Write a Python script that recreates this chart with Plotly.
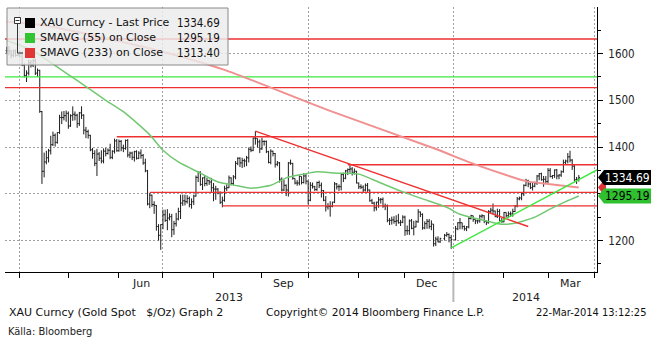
import pandas as pd
import plotly.graph_objects as go

# ---------------- data ----------------
WEEK0 = "2013-03-18"  # Monday of first week; rows are Mon..Fri

CLOSE = [
    [None, None, None, None, 1606],
    [1605, 1596, 1605, 1596, 1597],
    [1600, 1575, 1553, 1558, 1580],
    [1575, 1585, 1558, 1564, 1476],
    [1348, 1368, 1377, 1392, 1405],
    [1425, 1410, 1431, 1463, 1463],
    [1467, 1472, 1445, 1467, 1470],
    [1468, 1450, 1473, 1468, 1436],
    [1433, 1425, 1394, 1386, 1365],
    [1385, 1376, 1370, 1391, 1386],
    [1393, 1378, 1391, 1413, 1392],
    [1412, 1398, 1397, 1414, 1383],
    [1387, 1378, 1390, 1376, 1387],
    [1382, 1366, 1349, 1278, 1297],
    [1277, 1275, 1230, 1211, 1234],
    [1255, 1243, 1248, 1251, 1223],
    [1236, 1246, 1262, 1280, 1285],
    [1283, 1290, 1277, 1283, 1295],
    [1335, 1346, 1320, 1334, 1322],
    [1328, 1325, 1313, 1310, 1310],
    [1302, 1282, 1286, 1311, 1313],
    [1334, 1322, 1336, 1365, 1376],
    [1366, 1371, 1370, 1377, 1395],
    [1393, 1419, 1418, 1411, 1396],
    [1412, 1412, 1390, 1367, 1391],
    [1386, 1363, 1366, 1331, 1308],
    [1318, 1308, 1366, 1365, 1333],
    [1323, 1323, 1337, 1324, 1338],
    [1327, 1286, 1318, 1315, 1309],
    [1324, 1318, 1307, 1286, 1272],
    [1273, 1273, 1282, 1321, 1315],
    [1315, 1341, 1333, 1349, 1352],
    [1353, 1346, 1348, 1323, 1315],
    [1314, 1308, 1318, 1308, 1285],
    [1280, 1270, 1282, 1287, 1288],
    [1274, 1274, 1243, 1243, 1244],
    [1241, 1242, 1238, 1239, 1250],
    [1221, 1221, 1242, 1226, 1229],
    [1240, 1261, 1256, 1227, 1236],
    [1241, 1230, 1235, 1193, 1203],
    [1197, 1204, None, 1211, 1213],
    [1206, 1202, None, 1225, 1238],
    [1238, 1230, 1225, 1229, 1247],
    [1253, 1245, 1242, 1242, 1252],
    [1253, 1241, 1238, 1262, 1265],
    [1263, 1251, 1262, 1242, 1240],
    [1260, 1253, 1257, 1257, 1262],
    [1274, 1289, 1291, 1300, 1318],
    [1328, 1321, 1313, 1316, 1323],
    [1338, 1343, 1330, 1331, 1326],
    [1350, 1337, 1339, 1351, 1338],
    [1340, 1347, 1367, 1370, 1379],
    [1372, 1359, 1330, 1331, 1334.69],
]

HIGH = [
    [None, None, None, None, 1614],
    [1616, 1608, 1609, 1609, 1600],
    [1606, 1604, 1579, 1564, 1587],
    [1586, 1589, 1589, 1568, 1565],
    [1477, 1388, 1392, 1396, 1424],
    [1433, 1429, 1432, 1469, 1476],
    [1477, 1478, 1476, 1470, 1487],
    [1476, 1471, 1475, 1487, 1470],
    [1443, 1437, 1426, 1398, 1393],
    [1396, 1389, 1393, 1397, 1398],
    [1397, 1407, 1393, 1418, 1417],
    [1416, 1415, 1405, 1416, 1417],
    [1390, 1390, 1392, 1393, 1391],
    [1395, 1385, 1375, 1351, 1301],
    [1298, 1284, 1276, 1235, 1235],
    [1266, 1266, 1267, 1258, 1257],
    [1242, 1259, 1270, 1298, 1298],
    [1298, 1297, 1294, 1290, 1298],
    [1339, 1348, 1348, 1335, 1338],
    [1334, 1330, 1334, 1323, 1317],
    [1312, 1305, 1294, 1317, 1320],
    [1339, 1335, 1340, 1370, 1378],
    [1378, 1377, 1375, 1381, 1399],
    [1401, 1420, 1434, 1418, 1416],
    [1420, 1414, 1414, 1392, 1395],
    [1392, 1387, 1370, 1368, 1335],
    [1330, 1320, 1368, 1373, 1366],
    [1333, 1329, 1339, 1337, 1344],
    [1343, 1328, 1325, 1324, 1317],
    [1326, 1328, 1324, 1308, 1295],
    [1280, 1284, 1283, 1325, 1323],
    [1320, 1342, 1345, 1351, 1354],
    [1361, 1357, 1354, 1349, 1324],
    [1320, 1318, 1322, 1323, 1309],
    [1289, 1283, 1283, 1293, 1291],
    [1292, 1279, 1277, 1248, 1251],
    [1252, 1254, 1257, 1244, 1254],
    [1253, 1232, 1245, 1246, 1242],
    [1243, 1267, 1262, 1258, 1241],
    [1246, 1246, 1243, 1235, 1208],
    [1209, 1206, None, 1214, 1218],
    [1215, 1212, None, 1231, 1239],
    [1248, 1238, 1232, 1231, 1250],
    [1255, 1253, 1245, 1244, 1255],
    [1256, 1254, 1243, 1265, 1270],
    [1279, 1264, 1268, 1267, 1248],
    [1261, 1260, 1262, 1262, 1268],
    [1276, 1293, 1294, 1302, 1320],
    [1332, 1330, 1324, 1324, 1326],
    [1340, 1344, 1345, 1338, 1338],
    [1355, 1355, 1340, 1352, 1353],
    [1342, 1350, 1373, 1373, 1387],
    [1392, 1374, 1362, 1336, 1340],
]

LOW = [
    [None, None, None, None, 1600],
    [1596, 1590, 1592, 1593, 1594],
    [1591, 1573, 1549, 1539, 1553],
    [1570, 1571, 1554, 1550, 1473],
    [1321, 1335, 1363, 1367, 1384],
    [1402, 1401, 1407, 1428, 1449],
    [1457, 1454, 1439, 1443, 1456],
    [1457, 1441, 1445, 1460, 1427],
    [1419, 1418, 1391, 1375, 1359],
    [1338, 1370, 1365, 1365, 1380],
    [1384, 1374, 1374, 1386, 1390],
    [1390, 1391, 1389, 1394, 1378],
    [1376, 1372, 1369, 1373, 1374],
    [1375, 1362, 1346, 1275, 1269],
    [1272, 1257, 1221, 1200, 1180],
    [1224, 1240, 1222, 1243, 1207],
    [1212, 1230, 1243, 1246, 1274],
    [1275, 1279, 1271, 1268, 1276],
    [1294, 1325, 1317, 1308, 1316],
    [1317, 1319, 1304, 1284, 1287],
    [1299, 1278, 1271, 1283, 1306],
    [1312, 1318, 1318, 1331, 1361],
    [1357, 1355, 1357, 1359, 1367],
    [1389, 1391, 1405, 1399, 1387],
    [1394, 1403, 1387, 1365, 1363],
    [1380, 1356, 1359, 1324, 1305],
    [1306, 1295, 1294, 1362, 1330],
    [1320, 1317, 1318, 1320, 1322],
    [1320, 1277, 1284, 1311, 1306],
    [1306, 1312, 1292, 1284, 1262],
    [1266, 1251, 1271, 1280, 1309],
    [1306, 1307, 1325, 1331, 1340],
    [1345, 1339, 1341, 1322, 1310],
    [1310, 1303, 1305, 1304, 1283],
    [1278, 1262, 1264, 1270, 1279],
    [1270, 1265, 1239, 1233, 1234],
    [1236, 1231, 1236, 1231, 1237],
    [1210, 1212, 1212, 1224, 1211],
    [1228, 1238, 1250, 1223, 1224],
    [1225, 1225, 1222, 1187, 1188],
    [1196, 1195, None, 1200, 1208],
    [1196, 1182, None, 1200, 1222],
    [1224, 1224, 1221, 1220, 1226],
    [1245, 1240, 1235, 1236, 1238],
    [1247, 1237, 1233, 1236, 1258],
    [1256, 1250, 1248, 1241, 1238],
    [1239, 1249, 1249, 1251, 1251],
    [1261, 1271, 1286, 1286, 1295],
    [1316, 1314, 1310, 1307, 1314],
    [1319, 1329, 1328, 1315, 1322],
    [1323, 1335, 1332, 1334, 1331],
    [1331, 1336, 1345, 1362, 1365],
    [1367, 1351, 1327, 1321, 1326],
]

SMA55_DATES = ["2013-03-22", "2013-04-08", "2013-04-16", "2013-05-01", "2013-05-14",
               "2013-05-24", "2013-06-06", "2013-06-21", "2013-07-01", "2013-07-10",
               "2013-07-24", "2013-08-05", "2013-08-16", "2013-08-26", "2013-09-06",
               "2013-09-17", "2013-09-27", "2013-10-07", "2013-10-18", "2013-11-01",
               "2013-11-14", "2013-11-29", "2013-12-12", "2013-12-27", "2014-01-06",
               "2014-01-20", "2014-01-31", "2014-02-10", "2014-02-21", "2014-03-03",
               "2014-03-13", "2014-03-21"]
SMA55_VALUES = [1628, 1608, 1590, 1555, 1526,
                1500, 1472, 1426, 1393, 1368,
                1344, 1325, 1317, 1312, 1318,
                1334, 1342, 1347, 1344, 1342,
                1325, 1304, 1289, 1271, 1256,
                1244, 1235, 1237, 1250, 1265,
                1283, 1295.19]

SMA233_DATES = ["2013-03-22", "2013-04-15", "2013-05-22", "2013-06-28", "2013-08-08",
                "2013-10-14", "2013-12-23", "2014-01-13", "2014-02-04", "2014-02-17",
                "2014-03-03", "2014-03-21"]
SMA233_VALUES = [1668, 1661, 1635, 1605, 1565,
                 1479, 1394, 1366, 1340, 1327,
                 1321, 1313.40]

RED_LEVELS = [1631, 1527, 1422, 1362, 1303, 1274]
RED_LEVEL_STARTS = ["2013-03-21", "2013-03-21", "2013-05-31", "2013-10-25", "2013-06-21", "2013-08-07"]
GREEN_LEVEL = 1550
RED_TREND_DATES = ["2013-08-28", "2014-02-18"]
RED_TREND_VALUES = [1434, 1230]
GREEN_TREND_DATES = ["2013-12-31", "2014-04-02 06:00"]
GREEN_TREND_VALUES = [1184, 1351]

LAST_PRICE = 1334.69
SMA55_LAST = 1295.19
SMA233_LAST = 1313.40

Y_TICKS = [1200, 1300, 1400, 1500, 1600]
Y_TICK_TEXT = ["1200", "", "1400", "1500", "1600"]
Y_MINOR = [1150, 1250, 1350, 1450, 1550, 1650]
QUARTER_STARTS = ["2013-04-01", "2013-07-01", "2013-10-01", "2014-01-01", "2014-04-01"]
MONTH_STARTS = ["2013-04-01", "2013-05-01", "2013-06-03", "2013-07-01", "2013-08-01",
                "2013-09-02", "2013-10-01", "2013-11-01", "2013-12-02", "2014-01-01",
                "2014-02-03", "2014-03-03", "2014-04-01"]
MONTH_LABELS = ["Jun", "Sep", "Dec", "Mar"]
MONTH_LABEL_DATES = ["2013-06-17", "2013-09-16", "2013-12-16", "2014-03-17"]
YEAR_LABELS = ["2013", "2014"]
YEAR_BREAK = "2014-01-01"

LEGEND_LABELS = ["XAU Curncy - Last Price", "SMAVG (55) on Close", "SMAVG (233) on Close"]
LEGEND_VALUES = ["1334.69", "1295.19", "1313.40"]

# ---------------- geometry / style ----------------
W_PX, H_PX = 655, 351
ML, MR, MT, MB = 5, 58, 7, 79
PW, PH = W_PX - ML - MR, H_PX - MT - MB
X_RANGE = ["2013-03-21 05:00", "2014-04-02 06:30"]
Y_RANGE = [1132.6, 1699.5]

FONT = "DejaVu Sans"
FONT_C = "DejaVu Sans Condensed"
FONT_N = "Liberation Sans Narrow, Arial Narrow, DejaVu Sans Condensed"

RED = "#ee3030"
GREEN_LINE = "#3ee83e"
SMA55_COLOR = "#72c872"
SMA233_COLOR = "#f09090"
BOX_GREEN = "#2fbf2f"
BAR_COLOR = "#1c1c1c"


def xp(px):
    return (px - ML) / PW


def yp(py):
    return (H_PX - MB - py) / PH


def vy(v):
    return (v - Y_RANGE[0]) / (Y_RANGE[1] - Y_RANGE[0])


x0 = pd.Timestamp(X_RANGE[0])
x1 = pd.Timestamp(X_RANGE[1])
bdays_total = len(pd.bdate_range(x0.normalize(), x1.normalize()))
px_per_bday = PW / bdays_total

# ---------------- build bars ----------------
week0 = pd.Timestamp(WEEK0)
dates, o, h, l, c = [], [], [], [], []
prev = None
for w, (cr, hr, lr) in enumerate(zip(CLOSE, HIGH, LOW)):
    for d in range(5):
        if cr[d] is None:
            continue
        dates.append(week0 + pd.Timedelta(days=7 * w + d))
        c.append(cr[d])
        h.append(hr[d])
        l.append(lr[d])
        o.append(prev if prev is not None else cr[d])
        prev = cr[d]

fig = go.Figure()

# horizontal levels
for lev, start in zip(RED_LEVELS, RED_LEVEL_STARTS):
    fig.add_trace(go.Scatter(x=[start, X_RANGE[1]], y=[lev, lev], mode="lines",
                             line=dict(color=RED, width=1.4), hoverinfo="skip"))
fig.add_trace(go.Scatter(x=[X_RANGE[0], X_RANGE[1]], y=[GREEN_LEVEL, GREEN_LEVEL], mode="lines",
                         line=dict(color=GREEN_LINE, width=1.4), hoverinfo="skip"))

# moving averages
fig.add_trace(go.Scatter(x=SMA233_DATES, y=SMA233_VALUES, mode="lines",
                         line=dict(color=SMA233_COLOR, width=2, shape="spline", smoothing=0.6),
                         hoverinfo="skip"))
fig.add_trace(go.Scatter(x=SMA55_DATES, y=SMA55_VALUES, mode="lines",
                         line=dict(color=SMA55_COLOR, width=1.5, shape="spline", smoothing=0.6),
                         hoverinfo="skip"))

# trend lines
fig.add_trace(go.Scatter(x=RED_TREND_DATES, y=RED_TREND_VALUES, mode="lines",
                         line=dict(color=RED, width=1.4), hoverinfo="skip"))
fig.add_trace(go.Scatter(x=GREEN_TREND_DATES, y=GREEN_TREND_VALUES, mode="lines",
                         line=dict(color=GREEN_LINE, width=1.4), hoverinfo="skip"))

# price bars
fig.add_trace(go.Ohlc(x=dates, open=o, high=h, low=l, close=c, tickwidth=0.5,
                      increasing=dict(line=dict(color=BAR_COLOR, width=1)),
                      decreasing=dict(line=dict(color=BAR_COLOR, width=1)),
                      hoverinfo="skip"))

# right-axis major tick triangles
tri_x = x1 + pd.Timedelta(days=3.0 / px_per_bday)
fig.add_trace(go.Scatter(x=[tri_x] * len(Y_TICKS), y=Y_TICKS, mode="markers",
                         marker=dict(symbol="triangle-right", size=6, color="black"),
                         cliponaxis=False, hoverinfo="skip"))

shapes = []
annotations = []

# legend box
shapes.append(dict(type="rect", xref="paper", yref="paper", x0=xp(7), x1=xp(228), y0=yp(65), y1=yp(8),
                   fillcolor="rgba(236,236,236,0.82)", line=dict(color="#8a8a8a", width=1), layer="above"))
# tree icon
shapes.append(dict(type="rect", xref="paper", yref="paper", x0=xp(14.5), x1=xp(20.5), y0=yp(23.5), y1=yp(17.5),
                   fillcolor="white", line=dict(color="#333", width=1), layer="above"))
shapes.append(dict(type="line", xref="paper", yref="paper", x0=xp(15.5), x1=xp(19.5), y0=yp(20.5), y1=yp(20.5),
                   line=dict(color="#333", width=1), layer="above"))
shapes.append(dict(type="line", xref="paper", yref="paper", x0=xp(17.5), x1=xp(17.5), y0=yp(53), y1=yp(23.5),
                   line=dict(color="#333", width=1), layer="above"))
shapes.append(dict(type="line", xref="paper", yref="paper", x0=xp(17.5), x1=xp(23), y0=yp(53), y1=yp(53),
                   line=dict(color="#333", width=1), layer="above"))

legend_colors = ["#000000", "#33c433", "#e03535"]
for i, (lab, val, col) in enumerate(zip(LEGEND_LABELS, LEGEND_VALUES, legend_colors)):
    cy = 23 + 15 * i
    shapes.append(dict(type="rect", xref="paper", yref="paper", x0=xp(25), x1=xp(35),
                       y0=yp(cy + 5), y1=yp(cy - 5), fillcolor=col, line=dict(width=0), layer="above"))
    annotations.append(dict(text=lab, xref="paper", yref="paper", x=xp(38), y=yp(cy), xanchor="left",
                            yanchor="middle", showarrow=False, font=dict(family=FONT, size=11, color="#111")))
    annotations.append(dict(text=val, xref="paper", yref="paper", x=xp(222), y=yp(cy), xanchor="right",
                            yanchor="middle", showarrow=False, font=dict(family=FONT_C, size=11.5, color="#111")))

# right-side value boxes
half = 7.5 / PH


def box_path(v, right):
    yc = vy(v)
    return (f"M {xp(598)},{yc} L {xp(604)},{yc + half} L {xp(right)},{yc + half} "
            f"L {xp(right)},{yc - half} L {xp(604)},{yc - half} Z")


shapes.append(dict(type="path", xref="paper", yref="paper", path=box_path(SMA233_LAST, 606),
                   fillcolor="#e03535", line=dict(width=0), layer="above"))
shapes.append(dict(type="path", xref="paper", yref="paper", path=box_path(LAST_PRICE, 651),
                   fillcolor="#000000", line=dict(width=0), layer="above"))
shapes.append(dict(type="path", xref="paper", yref="paper", path=box_path(SMA55_LAST, 651),
                   fillcolor=BOX_GREEN, line=dict(width=0), layer="above"))
annotations.append(dict(text=f"{LAST_PRICE:.2f}", xref="paper", yref="paper", x=xp(627), y=vy(LAST_PRICE),
                        xanchor="center", yanchor="middle", showarrow=False,
                        font=dict(family=FONT_C, size=12, color="white")))
annotations.append(dict(text=f"{SMA55_LAST:.2f}", xref="paper", yref="paper", x=xp(627), y=vy(SMA55_LAST),
                        xanchor="center", yanchor="middle", showarrow=False,
                        font=dict(family=FONT_C, size=12, color="black")))

# x-axis labels
for lab, d in zip(MONTH_LABELS, MONTH_LABEL_DATES):
    annotations.append(dict(text=lab, xref="x", yref="paper", x=d, y=yp(283), xanchor="center",
                            yanchor="middle", showarrow=False, font=dict(family=FONT, size=11, color="#222")))
yb = pd.Timestamp(YEAR_BREAK)
year_x = [x0 + (yb - x0) / 2, yb + (x1 - yb) / 2]
year_x = [pd.bdate_range(d.normalize(), periods=1)[0] for d in year_x]
for lab, d in zip(YEAR_LABELS, year_x):
    annotations.append(dict(text=lab, xref="x", yref="paper", x=d, y=yp(297), xanchor="center",
                            yanchor="middle", showarrow=False, font=dict(family=FONT, size=11, color="#222")))
shapes.append(dict(type="line", xref="x", yref="paper", x0=YEAR_BREAK, x1=YEAR_BREAK, y0=yp(273), y1=yp(302),
                   line=dict(color="#b8b8b8", width=2)))

# footer
annotations.append(dict(text="XAU Curncy (Gold Spot\u00a0\u00a0\u00a0$/Oz) Graph 2", xref="paper", yref="paper",
                        x=xp(7), y=yp(312), xanchor="left", yanchor="middle", showarrow=False,
                        font=dict(family=FONT, size=11, color="#111")))
annotations.append(dict(text="Copyright\u00a9 2014 Bloomberg Finance L.P.", xref="paper", yref="paper",
                        x=xp(264), y=yp(312), xanchor="left", yanchor="middle", showarrow=False,
                        font=dict(family=FONT, size=10.6, color="#111")))
annotations.append(dict(text="22-Mar-2014 13:12:25", xref="paper", yref="paper",
                        x=xp(648), y=yp(312), xanchor="right", yanchor="middle", showarrow=False,
                        font=dict(family=FONT_C, size=11, color="#111")))
annotations.append(dict(text="Källa: Bloomberg", xref="paper", yref="paper",
                        x=xp(6), y=yp(331), xanchor="left", yanchor="middle", showarrow=False,
                        font=dict(family=FONT_N, size=11, color="#222")))

fig.update_layout(
    width=W_PX, height=H_PX,
    margin=dict(l=ML, r=MR, t=MT, b=MB, pad=0),
    paper_bgcolor="white", plot_bgcolor="white",
    showlegend=False,
    shapes=shapes, annotations=annotations,
    xaxis=dict(
        type="date", range=X_RANGE, rangeslider=dict(visible=False),
        rangebreaks=[dict(bounds=["sat", "mon"])],
        tickmode="array", tickvals=QUARTER_STARTS, showticklabels=False,
        ticks="outside", ticklen=5, tickcolor="black",
        showgrid=True, gridcolor="#a0a0a0", griddash="2px,2px", gridwidth=1,
        minor=dict(tickmode="array", tickvals=MONTH_STARTS, ticks="outside", ticklen=5,
                   tickcolor="black", showgrid=False),
        showline=True, linecolor="black", linewidth=1, zeroline=False, fixedrange=True,
    ),
    yaxis=dict(
        side="right", range=Y_RANGE,
        tickmode="array", tickvals=Y_TICKS, ticktext=Y_TICK_TEXT,
        ticks="outside", ticklen=5, tickcolor="black", ticklabelstandoff=3,
        tickfont=dict(family=FONT_C, size=11.5, color="#222"),
        showgrid=True, gridcolor="#a0a0a0", griddash="2px,2px", gridwidth=1,
        minor=dict(tickmode="array", tickvals=Y_MINOR, ticks="outside", ticklen=3,
                   tickcolor="black", showgrid=False),
        showline=True, linecolor="black", linewidth=1, zeroline=False, fixedrange=True,
    ),
)

fig.write_html("out.html")
